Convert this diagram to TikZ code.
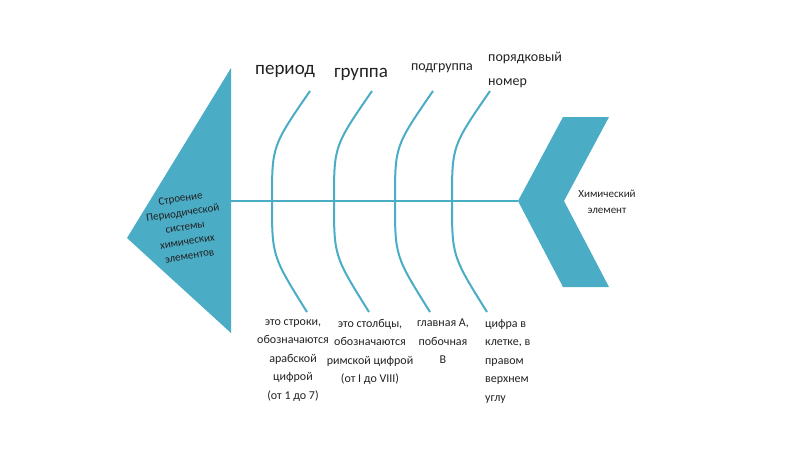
\documentclass[tikz,border=0pt]{standalone}
\usepackage{fontspec}
\setmainfont{Carlito}
\definecolor{fishblue}{HTML}{4BACC6}
\definecolor{ink}{HTML}{222222}
\begin{document}
\begin{tikzpicture}[x=1pt,y=-1pt,
  bone/.style={draw=fishblue, line width=2pt},
  biglabel/.style={text=ink, font=\fontsize{19}{23}\selectfont, inner sep=0pt},
  midlabel/.style={text=ink, font=\fontsize{14}{24}\selectfont, inner sep=0pt},
  note/.style={text=ink, font=\fontsize{12}{18.5}\selectfont, inner sep=0pt, align=center},
  headtext/.style={text=ink, font=\fontsize{11}{14.5}\selectfont, inner sep=0pt, align=center}]
\useasboundingbox (0,0) rectangle (800,450);
% tail triangle
\coordinate (tT) at (231,68);
\coordinate (tB) at (231,333);
\coordinate (tA) at (127,238);
\fill[fishblue] (tT) -- (tB) -- (tA) -- cycle;
\node[headtext, rotate=9] (tailtext) at (185,227) {Строение\\Периодической\\системы\\химических\\элементов};
% head chevron
\coordinate (h1) at (563,117);
\coordinate (h2) at (609,117);
\coordinate (h3) at (564,201);
\coordinate (h4) at (609,287);
\coordinate (h5) at (563,287);
\coordinate (h6) at (518,201);
\fill[fishblue] (h1) -- (h2) -- (h3) -- (h4) -- (h5) -- (h6) -- cycle;
\node[headtext, font=\fontsize{11}{16}\selectfont] (headtext) at (607,202) {Химический\\элемент};
% spine
\coordinate (s0) at (231,201);
\draw[bone] (s0) -- (h6);
% bones
\foreach \x/\n in {272/a,334/b,395/c,452/d}{
  \coordinate (top\n) at (\x+38,91);
  \coordinate (mid\n) at (\x,201);
  \coordinate (bot\n) at (\x+35,312);
  \draw[bone] (top\n) .. controls (\x,146) .. (mid\n) .. controls (\x,256) .. (bot\n);
}
% top labels
\node[biglabel] (l1) at (285,71) {период};
\node[biglabel] (l2) at (361,74) {группа};
\node[midlabel] (l3) at (442,68) {подгруппа};
\node[midlabel, anchor=west, align=left] (l4) at (488,70) {порядковый\\номер};
% bottom notes
\node[note, anchor=north] (n1) at (293,319) {это строки,\\обозначаются\\арабской\\цифрой\\(от 1 до 7)};
\node[note, anchor=north] (n2) at (370,319) {это столбцы,\\обозначаются\\римской цифрой\\(от I до VIII)};
\node[note, anchor=north] (n3) at (443,319) {главная А,\\побочная\\В};
\node[note, anchor=north west, align=left] (n4) at (485,319) {цифра в\\клетке, в\\правом\\верхнем\\углу};
\end{tikzpicture}
\end{document}
